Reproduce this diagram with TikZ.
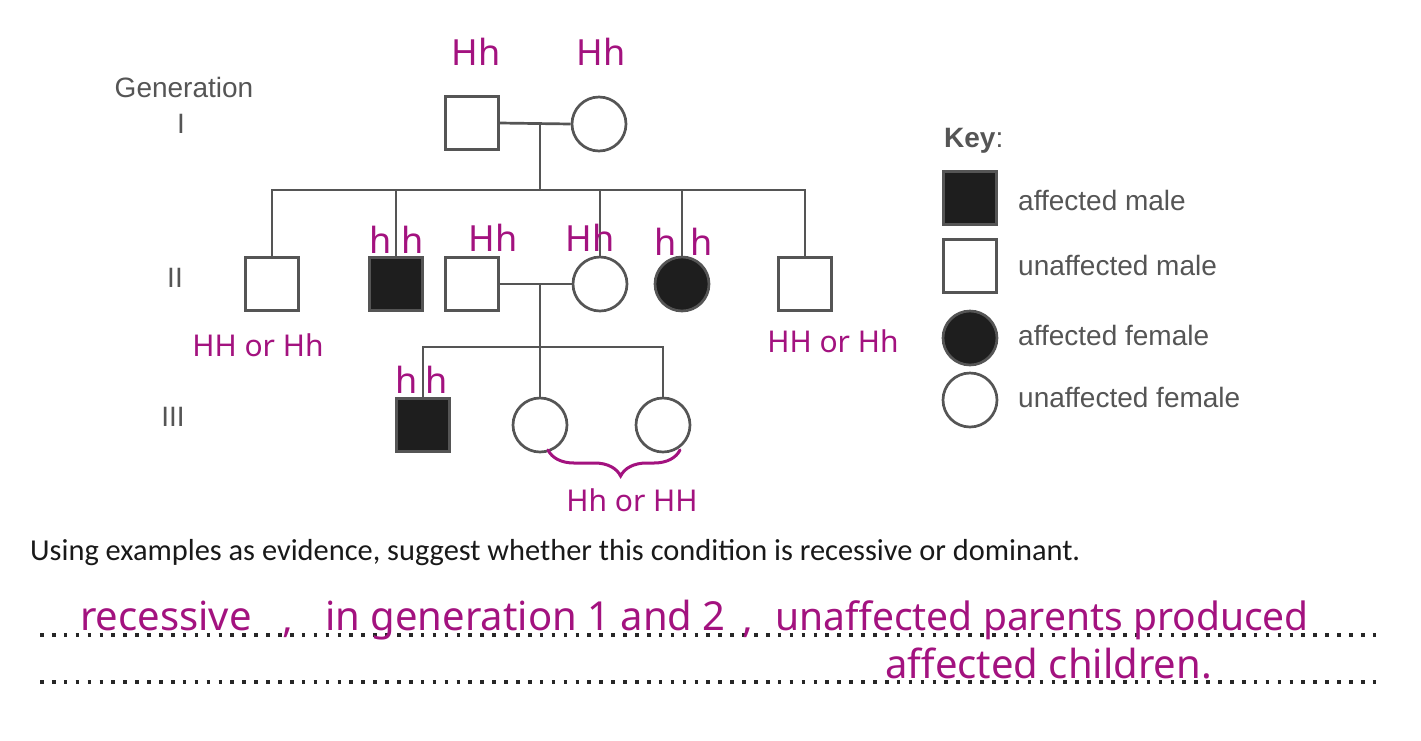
\documentclass[tikz,border=0pt]{standalone}
\usepackage{fontspec}
\setmainfont{Liberation Sans}
\newfontfamily\qfont{Carlito}
\newfontfamily\hand{Noto Sans}
\usetikzlibrary{decorations.pathreplacing}
\definecolor{ink}{HTML}{A3127F}
\definecolor{ped}{HTML}{555555}
\definecolor{lbl}{HTML}{555555}
\definecolor{filled}{HTML}{1E1E1E}
\begin{document}
\begin{tikzpicture}[x=1pt,y=-1pt,
 male/.style={draw=ped,line width=2.7pt,minimum size=53pt,inner sep=0pt,fill=white},
 female/.style={circle,draw=ped,line width=2.7pt,minimum size=54pt,inner sep=0pt,fill=white},
 aff/.style={fill=filled},
 link/.style={draw=ped,line width=2.7pt},
 gen/.style={text=lbl,font=\fontsize{28}{32}\selectfont},
 keytxt/.style={text=lbl,font=\fontsize{28}{32}\selectfont,anchor=west,inner sep=0pt},
 hw/.style={text=ink,font=\hand\fontsize{36}{40}\selectfont,inner sep=0pt},
 hwl/.style={text=ink,font=\hand\fontsize{40}{44}\selectfont,inner sep=0pt,anchor=base west},
 dotline/.style={draw=black!85,line width=3.6pt,dash pattern=on 3.6pt off 8.3pt}
]
\useasboundingbox[fill=white] (0,0) rectangle (1421,740);

% generation labels
\node[gen] (g1) at (184,87) {Generation};
\node[gen] (g1n) at (181,124) {I};
\node[gen] (g2n) at (175,278) {II};
\node[gen] (g3n) at (173,417) {III};

% generation I
\node[male] (I1) at (472,123) {};
\node[female] (I2) at (599,124) {};
\coordinate (m1) at (540,124);
\coordinate (s1) at (540,190);

% generation II
\node[male] (A) at (272,284) {};
\node[male,aff] (B) at (396,284) {};
\node[male] (C) at (472,284) {};
\node[female] (D) at (600,284) {};
\node[female,aff] (E) at (682,284) {};
\node[male] (F) at (805,284) {};
\coordinate (m2) at (540,284);
\coordinate (s2) at (540,347);

% generation III
\node[male,aff] (G) at (423,425) {};
\node[female] (H) at (540,425) {};
\node[female] (J) at (663,425) {};

% connectors
\draw[link] (I1.east) -- (I2.west);
\draw[link] (m1) -- (s1);
\draw[link] (A.north) -- (A.north |- s1) -- (F.north |- s1) -- (F.north);
\draw[link] (B.north) -- (B.north |- s1);
\draw[link] (D.north) -- (D.north |- s1);
\draw[link] (E.north) -- (E.north |- s1);
\draw[link] (C.east) -- (D.west);
\draw[link] (m2) -- (s2);
\draw[link] (G.north) -- (G.north |- s2) -- (J.north |- s2) -- (J.north);
\draw[link] (H.north) -- (H.north |- s2);

% key
\node[anchor=west,inner sep=0pt,text=lbl,font=\fontsize{28}{32}\selectfont] (key) at (944,141) {\textbf{Key}:};
\node[male,aff] (K1) at (970,198) {};
\node[male] (K2) at (970,266) {};
\node[female,aff] (K3) at (970,338) {};
\node[female] (K4) at (970,400) {};
\node[keytxt] (K1t) at (1018,200) {affected male};
\node[keytxt] (K2t) at (1018,265) {unaffected male};
\node[keytxt] (K3t) at (1018,335) {affected female};
\node[keytxt] (K4t) at (1018,397) {unaffected female};

% question
\node[anchor=base west,inner sep=0pt,text=black!90,font=\qfont\fontsize{30.4}{34}\selectfont] (q) at (30,560)
  {Using examples as evidence, suggest whether this condition is recessive or dominant.};
\coordinate (d1a) at (40,635);
\coordinate (d1b) at (1382,635);
\coordinate (d2a) at (40,682);
\coordinate (d2b) at (1382,682);
\draw[dotline] (d1a) -- (d1b);
\draw[dotline] (d2a) -- (d2b);

% handwritten annotations
\node[hw] (h1) at (476,52) {Hh};
\node[hw] (h2) at (601,52) {Hh};
\node[hw] (h3) at (397,240) {h\hspace{10pt}h};
\node[hw] (h4) at (493,238) {Hh};
\node[hw] (h5) at (590,238) {Hh};
\node[hw] (h6) at (684,242) {h\hspace{14pt}h};
\node[hw,font=\hand\fontsize{30}{34}\selectfont] (h7) at (258,345) {HH or Hh};
\node[hw,font=\hand\fontsize{30}{34}\selectfont] (h8) at (833,341) {HH or Hh};
\node[hw] (h9) at (422,380) {h\hspace{8pt}h};
\node[hw,font=\hand\fontsize{30}{34}\selectfont] (h10) at (632,500) {Hh or HH};
\coordinate (br1) at (548,450);
\coordinate (br2) at (680,450);
\draw[ink,line width=3pt,line cap=round,decorate,decoration={brace,amplitude=26pt,aspect=0.55,mirror}] (br1) -- (br2);

\node[hwl] (w1) at (80,630) {recessive};
\node[hwl] (w2) at (282,632) {,};
\node[hwl] (w3) at (325,630) {in generation 1 and 2};
\node[hwl] (w4) at (742,632) {,};
\node[hwl,font=\hand\fontsize{39}{44}\selectfont] (w5) at (775,630) {unaffected parents produced};
\node[hwl] (w6) at (885,678) {affected children.};
\end{tikzpicture}
\end{document}
